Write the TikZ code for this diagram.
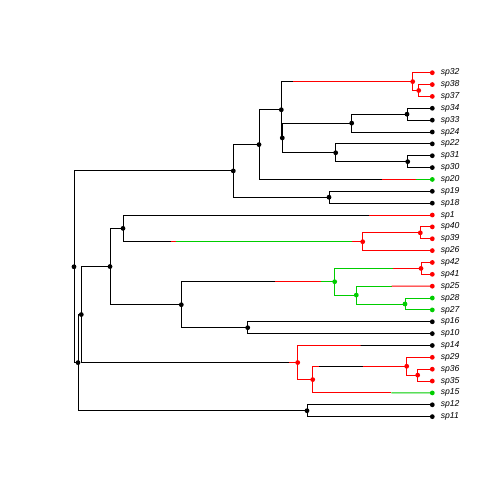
\documentclass[tikz,border=0pt]{standalone}
\usepackage{fontspec}
\setmainfont{Liberation Sans}
\usetikzlibrary{backgrounds}
\definecolor{stR}{RGB}{255,0,0}
\definecolor{stG}{RGB}{0,205,0}

\begin{document}
\begin{tikzpicture}[x=1pt, y=-1pt,
    br/.style={line width=0.9pt},
    blk/.style={br, black},
    red/.style={br, stR},
    grn/.style={br, stG},
    dot/.style={circle, fill=black, inner sep=0pt, minimum size=4.8pt},
    tiplab/.style={font=\itshape\fontsize{8.6}{10}\selectfont, anchor=west,
                   inner sep=0pt},
]
\useasboundingbox (0,0) rectangle (504,504);

% Tips
\foreach \nm/\i/\c in {sp32/0/stR, sp38/1/stR, sp37/2/stR, sp34/3/black,
    sp33/4/black, sp24/5/black, sp22/6/black, sp31/7/black, sp30/8/black,
    sp20/9/stG, sp19/10/black, sp18/11/black, sp1/12/stR, sp40/13/stR,
    sp39/14/stR, sp26/15/stR, sp42/16/stR, sp41/17/stR, sp25/18/stR,
    sp28/19/stG, sp27/20/stG, sp16/21/black, sp10/22/black, sp14/23/black,
    sp29/24/stR, sp36/25/stR, sp35/26/stR, sp15/27/stG, sp12/28/black,
    sp11/29/black}{
  \node[dot, fill=\c] (\nm) at (432.3,{72.7+11.86*\i}) {};
  \node[tiplab] (l\nm) at (440.6,{72.7+11.86*\i}) {\nm};
}

% Internal nodes
\node[dot] (R)    at (74.0,266.77) {};
\node[dot] (A)    at (233.3,170.92) {};
\node[dot] (A1)   at (259.0,144.60) {};
\node[dot] (A11)  at (281.3,109.76) {};
\node[dot, fill=stR] (A111)  at (412.7,81.60) {};
\node[dot, fill=stR] (A1111) at (418.7,90.49) {};
\node[dot] (A112) at (282.3,137.93) {};
\node[dot] (N1)   at (351.7,123.10) {};
\node[dot] (N11)  at (407.0,114.21) {};
\node[dot] (N2)   at (335.7,152.76) {};
\node[dot] (N21)  at (407.7,161.65) {};
\node[dot] (A2)   at (329.0,197.23) {};
\node[dot] (B)    at (78.0,362.62) {};
\node[dot] (C)    at (81.3,314.53) {};
\node[dot] (E)    at (110.0,266.54) {};
\node[dot] (E1)   at (123.0,228.36) {};
\node[dot, fill=stR] (E11)  at (362.7,241.70) {};
\node[dot, fill=stR] (E111) at (420.3,232.81) {};
\node[dot] (E2)   at (181.3,304.71) {};
\node[dot, fill=stG] (G)   at (334.7,281.73) {};
\node[dot, fill=stR] (G1)  at (421.0,268.39) {};
\node[dot, fill=stG] (G2)  at (356.3,295.07) {};
\node[dot, fill=stG] (G21) at (405.0,303.97) {};
\node[dot] (H)    at (247.7,327.69) {};
\node[dot, fill=stR] (F)    at (297.7,362.53) {};
\node[dot, fill=stR] (F1)   at (312.7,379.58) {};
\node[dot, fill=stR] (F11)  at (406.7,366.24) {};
\node[dot, fill=stR] (F111) at (417.7,375.13) {};
\node[dot] (D)    at (307.0,410.71) {};

% State changes along branches
\coordinate (t1)  at (293.3,81.60);
\coordinate (t2)  at (381.7,179.44);
\coordinate (t3)  at (415.7,179.44);
\coordinate (t4)  at (369.3,215.02);
\coordinate (t5)  at (170.7,241.70);
\coordinate (t6)  at (175.7,241.70);
\coordinate (t7)  at (352.0,241.70);
\coordinate (t8)  at (275.0,281.73);
\coordinate (t9)  at (320.7,281.73);
\coordinate (t10) at (393.3,268.39);
\coordinate (t11) at (391.7,286.18);
\coordinate (t12) at (289.3,362.53);
\coordinate (t13) at (360.7,345.48);
\coordinate (t14) at (319.3,366.24);
\coordinate (t15) at (362.7,366.24);
\coordinate (t16) at (391.3,392.92);

\begin{scope}[on background layer]
% Upper clade
\draw[blk] (R.center) |- (A.center);
\draw[blk] (A.center) |- (A1.center);
\draw[blk] (A.center) |- (A2.center);
\draw[blk] (A1.center) |- (A11.center);
\draw[blk] (A1.center) |- (t2);
\draw[red] (t2) -- (t3);
\draw[grn] (t3) -- (sp20.center);
\draw[blk] (A11.center) |- (t1);
\draw[red] (t1) -- (A111.center);
\draw[red] (A111.center) |- (sp32.center);
\draw[red] (A111.center) |- (A1111.center);
\draw[red] (A1111.center) |- (sp38.center);
\draw[red] (A1111.center) |- (sp37.center);
\draw[blk] (A11.center) |- (A112.center);
\draw[blk] (A112.center) |- (N1.center);
\draw[blk] (A112.center) |- (N2.center);
\draw[blk] (N1.center) |- (N11.center);
\draw[blk] (N1.center) |- (sp24.center);
\draw[blk] (N11.center) |- (sp34.center);
\draw[blk] (N11.center) |- (sp33.center);
\draw[blk] (N2.center) |- (sp22.center);
\draw[blk] (N2.center) |- (N21.center);
\draw[blk] (N21.center) |- (sp31.center);
\draw[blk] (N21.center) |- (sp30.center);
\draw[blk] (A2.center) |- (sp19.center);
\draw[blk] (A2.center) |- (sp18.center);

% Lower clade
\draw[blk] (R.center) |- (B.center);
\draw[blk] (B.center) |- (C.center);
\draw[blk] (B.center) |- (D.center);
\draw[blk] (D.center) |- (sp12.center);
\draw[blk] (D.center) |- (sp11.center);
\draw[blk] (C.center) |- (E.center);
\draw[blk] (C.center) |- (t12);
\draw[red] (t12) -- (F.center);
\draw[blk] (E.center) |- (E1.center);
\draw[blk] (E.center) |- (E2.center);
\draw[blk] (E1.center) |- (t4);
\draw[red] (t4) -- (sp1.center);
\draw[blk] (E1.center) |- (t5);
\draw[red] (t5) -- (t6);
\draw[grn] (t6) -- (t7);
\draw[red] (t7) -- (E11.center);
\draw[red] (E11.center) |- (E111.center);
\draw[red] (E11.center) |- (sp26.center);
\draw[red] (E111.center) |- (sp40.center);
\draw[red] (E111.center) |- (sp39.center);
\draw[blk] (E2.center) |- (t8);
\draw[red] (t8) -- (t9);
\draw[grn] (t9) -- (G.center);
\draw[blk] (E2.center) |- (H.center);
\draw[blk] (H.center) |- (sp16.center);
\draw[blk] (H.center) |- (sp10.center);
\draw[grn] (G.center) |- (t10);
\draw[red] (t10) -- (G1.center);
\draw[red] (G1.center) |- (sp42.center);
\draw[red] (G1.center) |- (sp41.center);
\draw[grn] (G.center) |- (G2.center);
\draw[grn] (G2.center) |- (t11);
\draw[red] (t11) -- (sp25.center);
\draw[grn] (G2.center) |- (G21.center);
\draw[grn] (G21.center) |- (sp28.center);
\draw[grn] (G21.center) |- (sp27.center);
\draw[red] (F.center) |- (t13);
\draw[blk] (t13) -- (sp14.center);
\draw[red] (F.center) |- (F1.center);
\draw[red] (F1.center) |- (t14);
\draw[blk] (t14) -- (t15);
\draw[red] (t15) -- (F11.center);
\draw[red] (F1.center) |- (t16);
\draw[grn] (t16) -- (sp15.center);
\draw[red] (F11.center) |- (sp29.center);
\draw[red] (F11.center) |- (F111.center);
\draw[red] (F111.center) |- (sp36.center);
\draw[red] (F111.center) |- (sp35.center);
\end{scope}
\end{tikzpicture}
\end{document}
